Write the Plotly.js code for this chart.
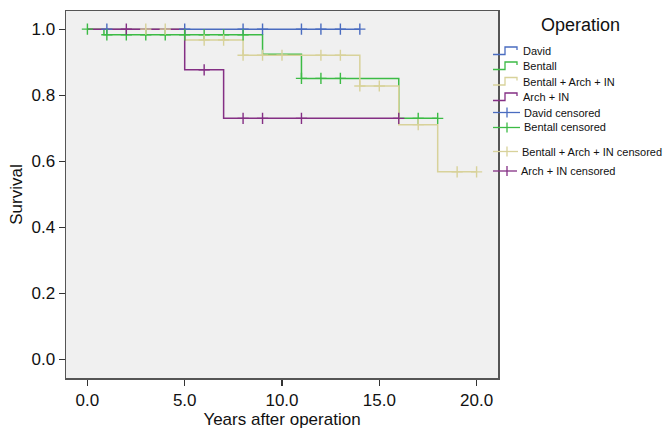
<!DOCTYPE html>
<html>
<head>
<meta charset="utf-8">
<script src="https://cdn.plot.ly/plotly-3.0.1.min.js"></script>
<style>html,body{margin:0;padding:0;background:#fff;}#chart{width:670px;height:434px;}</style>
</head>
<body>
<div id="chart"></div>
<script>
// Kaplan-Meier step data (event times / survival)
const davidT = [0, 14];
const davidS = [1.0, 1.0];
const bentallT = [0, 0.85, 9, 11, 16, 18];
const bentallS = [1.0, 0.983, 0.924, 0.851, 0.730, 0.730];
const bArchT = [0, 5, 8, 14, 16, 18, 20];
const bArchS = [1.0, 0.967, 0.921, 0.828, 0.711, 0.568, 0.568];
const archT = [0, 5, 7, 16];
const archS = [1.0, 0.877, 0.730, 0.730];

// Censored observations
const davidCT = [1, 5, 8, 9, 11, 12, 13, 14];
const davidCS = [1, 1, 1, 1, 1, 1, 1, 1];
const bentallCT = [0, 1, 2, 3, 4, 5, 6, 7, 8, 11, 12, 13, 17, 18];
const bentallCS = [1.0, 0.983, 0.983, 0.983, 0.983, 0.983, 0.983, 0.983, 0.983, 0.851, 0.851, 0.851, 0.730, 0.730];
const bArchCT = [3, 4, 6, 7, 8, 9, 10, 12, 13, 14, 15, 17, 19, 20];
const bArchCS = [1.0, 1.0, 0.967, 0.967, 0.921, 0.921, 0.921, 0.921, 0.921, 0.828, 0.828, 0.711, 0.568, 0.568];
const archCT = [2, 6, 8, 9, 11, 16];
const archCS = [1.0, 0.877, 0.730, 0.730, 0.730, 0.730];

const names = ['David', 'Bentall', 'Bentall + Arch + IN', 'Arch + IN'];
const xTickVals = [0, 5, 10, 15, 20];
const xTickText = ['0.0', '5.0', '10.0', '15.0', '20.0'];
const yTickVals = [0, 0.2, 0.4, 0.6, 0.8, 1.0];
const yTickText = ['0.0', '0.2', '0.4', '0.6', '0.8', '1.0'];

const colors = ['#4a6cc0', '#3cbb45', '#d8d29a', '#842f84'];

const lines = [[davidT, davidS], [bentallT, bentallS], [bArchT, bArchS], [archT, archS]];
const cens = [[davidCT, davidCS], [bentallCT, bentallCS], [bArchCT, bArchCS], [archCT, archCS]];

const traces = [];
lines.forEach((d, i) => {
  traces.push({
    x: d[0], y: d[1], type: 'scatter', mode: 'lines',
    name: names[i],
    line: {shape: 'hv', color: colors[i], width: 1.5},
    hoverinfo: 'skip'
  });
});
cens.forEach((d, i) => {
  traces.push({
    x: d[0], y: d[1], type: 'scatter', mode: 'markers',
    name: names[i] + ' censored',
    marker: {symbol: 'cross-thin-open', size: 8, color: colors[i], line: {color: colors[i], width: 1.4}},
    hoverinfo: 'skip'
  });
});

// Layout geometry (pixels)
const W = 670, H = 434, ML = 66, MR = 172, MT = 11, MB = 56;
const PW = W - ML - MR, PH = H - MT - MB;
const px = v => (v - ML) / PW;
const py = v => (H - MB - v) / PH;

// Manual legend (SPSS style)
const shapes = [];
const annotations = [];
annotations.push({
  xref: 'paper', yref: 'paper', x: px(580), y: py(25), xanchor: 'center', yanchor: 'middle',
  text: 'Operation', showarrow: false, font: {size: 18, color: '#111'}
});
const stepY = [51, 66, 81.5, 97];
const censY = [112.5, 127.5, 151.5, 171];
const censTextX = [522, 522, 520, 519];
names.forEach((n, i) => {
  const y = stepY[i];
  shapes.push({
    type: 'path', xref: 'paper', yref: 'paper',
    path: `M${px(493)},${py(y + 3.5)} L${px(505)},${py(y + 3.5)} L${px(505)},${py(y - 4)} L${px(517)},${py(y - 4)} L${px(517)},${py(y - 1)}`,
    line: {color: colors[i], width: 1.3}
  });
  annotations.push({
    xref: 'paper', yref: 'paper', x: px(521), y: py(y), xanchor: 'left', yanchor: 'middle',
    text: n, showarrow: false, font: {size: 11, color: '#111'}
  });
  const cy = censY[i];
  shapes.push({
    type: 'line', xref: 'paper', yref: 'paper',
    x0: px(493), x1: px(censTextX[i] - 2), y0: py(cy), y1: py(cy),
    line: {color: colors[i], width: 1.3}
  });
  shapes.push({
    type: 'line', xref: 'paper', yref: 'paper',
    x0: px(507), x1: px(507), y0: py(cy - 5), y1: py(cy + 5),
    line: {color: colors[i], width: 1.3}
  });
  annotations.push({
    xref: 'paper', yref: 'paper', x: px(censTextX[i]), y: py(cy), xanchor: 'left', yanchor: 'middle',
    text: n + ' censored', showarrow: false, font: {size: 11, color: '#111'}
  });
});

const layout = {
  width: W, height: H,
  margin: {l: ML, r: MR, t: MT, b: MB},
  paper_bgcolor: '#ffffff',
  plot_bgcolor: '#f0f0f0',
  font: {family: 'Liberation Sans, Arial, sans-serif', color: '#111', size: 17},
  showlegend: false,
  shapes: shapes,
  annotations: annotations,
  xaxis: {
    range: [-1.1, 21.1],
    tickvals: xTickVals, ticktext: xTickText,
    ticks: 'outside', ticklen: 6, tickcolor: '#333', tickwidth: 1.2,
    showgrid: false, zeroline: false,
    showline: true, mirror: true, linecolor: '#555', linewidth: 1.5,
    tickfont: {size: 17},
    title: {text: 'Years after operation', font: {size: 17}, standoff: 3}
  },
  yaxis: {
    range: [-0.056, 1.055],
    tickvals: yTickVals, ticktext: yTickText,
    ticks: 'outside', ticklen: 6, tickcolor: '#333', tickwidth: 1.2,
    showgrid: false, zeroline: false,
    showline: true, mirror: true, linecolor: '#555', linewidth: 1.5,
    tickfont: {size: 17},
    title: {text: 'Survival', font: {size: 17}, standoff: 4}
  }
};

Plotly.newPlot('chart', traces, layout, {displayModeBar: false, staticPlot: true});
</script>
</body>
</html>
